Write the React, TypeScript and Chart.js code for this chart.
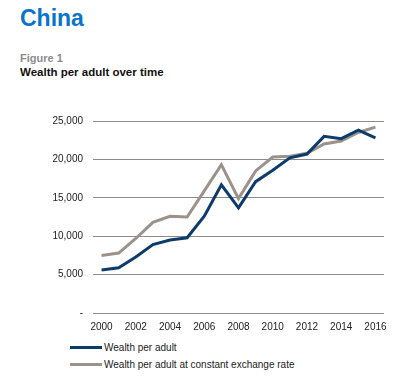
import React, { useEffect, useRef } from "react";
import { Chart, registerables } from "chart.js";

Chart.register(...registerables);

const years = ["2000","2001","2002","2003","2004","2005","2006","2007","2008","2009","2010","2011","2012","2013","2014","2015","2016"];
const wealthPerAdult = [5600, 5900, 7300, 8900, 9500, 9800, 12600, 16700, 13700, 17100, 18600, 20200, 20700, 23000, 22700, 23800, 22800];
const wealthConstantFx = [7500, 7800, 9700, 11800, 12600, 12500, 15900, 19300, 14900, 18500, 20300, 20400, 20800, 22000, 22400, 23500, 24200];
const seriesNames = ["Wealth per adult", "Wealth per adult at constant exchange rate"];
const yTicks = [0, 5000, 10000, 15000, 20000, 25000];

const BLUE = "#0d3b6b";
const GRAY = "#9a928b";
const FONT = "'Liberation Sans', Arial, sans-serif";

export default function App() {
  const ref = useRef<HTMLCanvasElement>(null);
  useEffect(() => {
    const chart = new Chart(ref.current!, {
      type: "line",
      data: {
        labels: years,
        datasets: [
          { label: seriesNames[0], data: wealthPerAdult, borderColor: BLUE, borderWidth: 3, pointRadius: 0, tension: 0, fill: false },
          { label: seriesNames[1], data: wealthConstantFx, borderColor: GRAY, borderWidth: 3, pointRadius: 0, tension: 0, fill: false },
        ],
      },
      options: {
        animation: false,
        responsive: false,
        maintainAspectRatio: false,
        layout: { padding: { top: 15, right: 11, left: 0, bottom: 0 } },
        plugins: { legend: { display: false }, tooltip: { enabled: false } },
        scales: {
          x: {
            offset: true,
            grid: { display: false, drawTicks: false },
            border: { display: false },
            ticks: {
              autoSkip: false,
              maxRotation: 0,
              padding: 8,
              color: "#222",
              font: { family: FONT, size: 10 },
              callback: (v: any, i: number) => (i % 2 === 0 ? years[i] : ""),
            },
            afterFit: (s: any) => { s.height = 27; },
          },
          y: {
            min: 0,
            max: 25000,
            grid: { color: "#8a8a8a", lineWidth: 1, drawTicks: false },
            border: { display: false },
            afterBuildTicks: (s: any) => { s.ticks = yTicks.map((v) => ({ value: v })); },
            ticks: {
              padding: 10,
              color: "#222",
              font: { family: FONT, size: 10 },
              callback: (v: any) => (v === 0 ? "-" : Number(v).toLocaleString("en-US")),
            },
            afterFit: (s: any) => { s.width = 93; },
          },
        },
      },
    });
    return () => chart.destroy();
  }, []);

  const legendItem = (color: string, text: string, top: number) => (
    <div style={{ position: "absolute", left: 70, top, display: "flex", alignItems: "center", fontFamily: FONT, fontSize: 10, color: "#222" }}>
      <div style={{ width: 32, height: 3, background: color, marginRight: 2 }} />
      <span>{text}</span>
    </div>
  );

  return (
    <div style={{ position: "absolute", left: 0, top: 0, width: 395, height: 377, background: "#fff" }}>
      <div style={{ position: "absolute", left: 20, top: 5, fontFamily: FONT, fontWeight: "bold", fontSize: 23, color: "#0a74cc" }}>China</div>
      <div style={{ position: "absolute", left: 20, top: 52, fontFamily: FONT, fontWeight: "bold", fontSize: 11, color: "#8c8c8c" }}>Figure 1</div>
      <div style={{ position: "absolute", left: 20, top: 66, fontFamily: FONT, fontWeight: "bold", fontSize: 11.5, color: "#111" }}>Wealth per adult over time</div>
      <canvas ref={ref} width={395} height={235} style={{ position: "absolute", left: 0, top: 105, width: 395, height: 235 }} />
      {legendItem(BLUE, seriesNames[0], 342)}
      {legendItem(GRAY, seriesNames[1], 359)}
    </div>
  );
}
